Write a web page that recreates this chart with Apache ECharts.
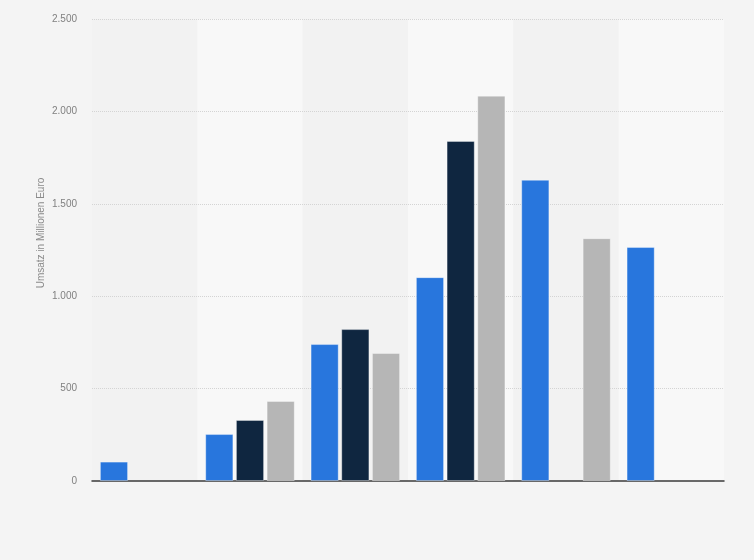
<!DOCTYPE html>
<html style="height: 100%">
<head>
    <meta charset="utf-8">
</head>
<body style="height: 100%; margin: 0; background: #f4f4f4">
<div id="container" style="height: 100%"></div>
<script type="text/javascript" src="https://cdn.jsdelivr.net/npm/echarts@6/dist/echarts.min.js"></script>
<script type="text/javascript">
  // no labels on the category axis in the original
  const categories = ['1', '2', '3', '4', '5', '6'];
  const seriesBlue = [105, 254, 741, 1103, 1630, 1266];
  const seriesNavy = [null, 330, 822, 1840, null, null];
  const seriesGray = [null, 433, 693, 2085, 1314, null];
  const yTicks = [0, 500, 1000, 1500, 2000, 2500];

  function deNumber (v) {
    return String(v).replace(/\B(?=(\d{3})+(?!\d))/g, '.');
  }

  function barSeries (name, values, color) {
    return {
      name: name,
      type: 'bar',
      data: values,
      barGap: '9%',
      barCategoryGap: '15%',
      itemStyle: {
        color: color,
        borderColor: 'rgba(255,255,255,0.35)',
        borderWidth: 1
      }
    }
  }

  var dom = document.getElementById("container");
  var myChart = echarts.init(dom);
  var option = {
    backgroundColor: '#f4f4f4',
    animation: false,
    grid: {
      left: 92,
      right: 30,
      top: 19,
      bottom: 79
    },
    xAxis: {
      type: 'category',
      data: categories,
      z: 0,
      axisLabel: { show: false },
      axisTick: { show: false },
      axisLine: { lineStyle: { color: '#3a3a3a', width: 1.5 } },
      splitArea: {
        show: true,
        areaStyle: { color: ['#f2f2f2', '#f8f8f8'] }
      }
    },
    yAxis: {
      type: 'value',
      z: 1,
      min: yTicks[0],
      max: yTicks[yTicks.length - 1],
      interval: 500,
      name: 'Umsatz in Millionen Euro',
      nameLocation: 'middle',
      nameGap: 46,
      nameMoveOverlap: false,
      nameTextStyle: {
        color: '#8a8a8a',
        fontSize: 10,
        fontFamily: 'Arial, Liberation Sans, sans-serif',
        padding: [0, 0, 0, 34]
      },
      axisLine: { show: false },
      axisTick: { show: false },
      axisLabel: {
        color: '#808080',
        fontSize: 10,
        fontFamily: 'Arial, Liberation Sans, sans-serif',
        margin: 15,
        formatter: deNumber
      },
      splitLine: {
        showMinLine: false,
        lineStyle: { color: '#d4d4d4', type: 'dotted' }
      }
    },
    series: [
      barSeries('Blau', seriesBlue, '#2876dd'),
      barSeries('Dunkel', seriesNavy, '#0f2640'),
      barSeries('Grau', seriesGray, '#b6b6b6')
    ]
  };
  myChart.setOption(option);
</script>
</body>
</html>
